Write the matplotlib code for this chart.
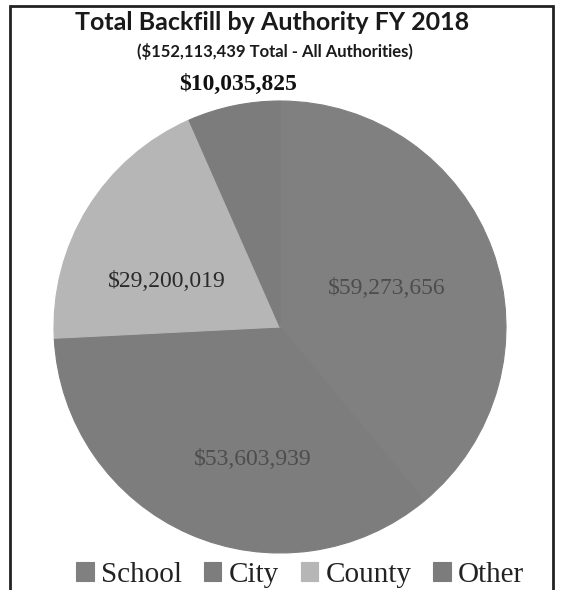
import numpy as np
import matplotlib
matplotlib.use('Agg')
from matplotlib import pyplot as plt
from matplotlib.patches import Rectangle

# data
categorii = ['School', 'City', 'County', 'Other']
valori = [59273656, 53603939, 29200019, 10035825]
etichete = ['$59,273,656', '$53,603,939', '$29,200,019', '$10,035,825']
culori = ['#808080', '#7d7d7d', '#b6b6b6', '#7c7c7c']

titlu = 'Total Backfill by Authority FY 2018'
subtitlu = '($152,113,439 Total - All Authorities)'

fig = plt.figure(figsize=(5.61, 5.90), dpi=100)
fig.patch.set_facecolor('white')

# pie axes: centre ~(280,327) px, radius ~226 px
ax = fig.add_axes([54 / 561, 37 / 590, 452 / 561, 452 / 590])
wedges, _ = ax.pie(valori, colors=culori, startangle=90, counterclock=False,
                   radius=1.0)
for w, c in zip(wedges, culori):
    w.set_edgecolor(c)
    w.set_linewidth(0.8)
ax.set_xlim(-1, 1)
ax.set_ylim(-1, 1)
ax.set_aspect('equal')
ax.axis('off')

# value labels, placed along each wedge's mid angle
dist = [0.50, 0.60, 0.54, 1.09]
stil = [dict(color='#4d4d4d', fontsize=17, fontweight='normal'),
        dict(color='#4d4d4d', fontsize=17, fontweight='normal'),
        dict(color='#2a2a2a', fontsize=17, fontweight='normal'),
        dict(color='#111111', fontsize=17, fontweight='bold')]
unghi_extra = [0, 12, 10, -2]
for w, et, d, s, u in zip(wedges, etichete, dist, stil, unghi_extra):
    mij = np.deg2rad((w.theta1 + w.theta2) / 2 + u)
    ax.text(d * np.cos(mij), d * np.sin(mij), et, ha='center', va='center',
            family='Liberation Serif', **s)

fig.text(0.485, 1 - 23 / 590, titlu, ha='center', va='center',
         family='Lato', fontweight='bold', fontsize=18, color='#1a1a1a')
fig.text(0.49, 1 - 51 / 590, subtitlu, ha='center', va='center',
         family='Lato', fontweight='bold', fontsize=12, color='#1a1a1a')

leg = fig.legend(wedges, categorii, loc='center', bbox_to_anchor=(0.535, 1 - 575 / 590),
                 ncol=4, frameon=False, handlelength=0.6, handleheight=0.6,
                 handletextpad=0.25, columnspacing=0.75,
                 prop=dict(family='Liberation Serif', size=21))
for t in leg.get_texts():
    t.set_color('#222222')

# scanned frame around the chart
fig.add_artist(Rectangle((10 / 561, -0.02), 543 / 561, 1.02 - 6 / 590,
                         transform=fig.transFigure, fill=False,
                         edgecolor='#222222', linewidth=2))

fig.savefig('out.png', dpi=100)
